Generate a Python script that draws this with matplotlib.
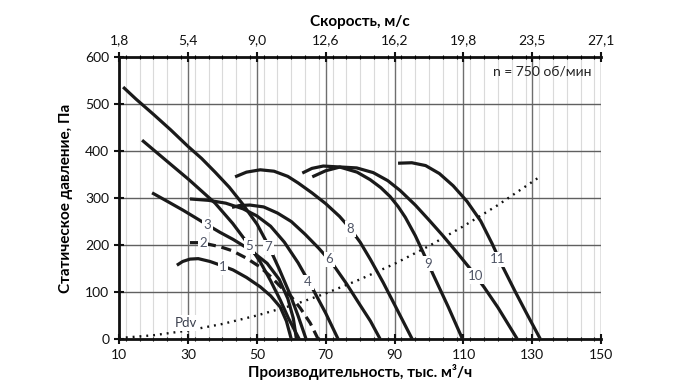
import matplotlib
matplotlib.use("Agg")
import matplotlib.pyplot as plt
from matplotlib.ticker import MultipleLocator, FixedLocator

plt.rcParams['font.family'] = ['Lato', 'Open Sans', 'DejaVu Sans']

# ---- data ----
q1 = [26.8, 28.5, 30.6, 33, 36.4, 39.5, 43.1, 47, 51, 54, 56.8, 58.6, 60.0]
p1 = [157, 165, 170, 171, 165, 157, 147, 131, 111, 92, 68, 38, 0]

q2 = [30.6, 34, 36.4, 39.5, 42.8, 47, 51, 54, 56.8, 60, 62.6, 65.5, 67.8]
p2 = [205, 205, 201, 196, 188, 172, 153, 133, 112, 90, 66, 34, 0]

q3 = [19.6, 24, 28.6, 32, 35.6, 39.3, 43.1, 48, 53, 56.5, 59, 60.6, 61.5]
p3 = [311, 293, 274, 259, 243, 227, 212, 190, 161, 127, 86, 44, 0]

q4 = [30.6, 36, 41, 46, 50, 54, 58, 62, 66, 70, 73.6]
p4 = [298, 295, 289, 277, 262, 240, 206, 162, 110, 55, 0]

q5 = [16.7, 23, 30.3, 37.9, 43, 47.8, 51, 54, 56.8, 59.2, 62.3]
p5 = [423, 384, 339, 289, 246, 199, 164, 124, 83, 44, 0]

q6 = [42.8, 45, 48, 52, 56, 60, 64, 68, 72, 76, 80, 83, 85.8]
p6 = [280, 284, 285, 281, 268, 250, 223, 193, 160, 118, 72, 38, 0]

q7 = [11.2, 15, 20, 25, 30, 34, 37.9, 42, 45.7, 50.1, 53.3, 56.5, 59.7, 62, 64.3]
p7 = [536, 510, 478, 445, 410, 384, 355, 323, 289, 244, 200, 149, 94, 49, 0]

q8 = [43.7, 47, 51, 55, 59, 62, 66, 70, 74, 77, 80, 83, 86.7, 90, 95.1]
p8 = [345, 355, 360, 357, 346, 332, 311, 288, 261, 236, 206, 169, 120, 73, 0]

q9 = [63.2, 66, 69.3, 74, 79.1, 82.9, 86, 88.7, 91, 93.1, 96, 98.3, 101.2, 105.6, 109.7]
p9 = [353, 363, 368, 366, 355, 339, 322, 303, 282, 259, 220, 184, 137, 68, 0]

q10 = [66.1, 70, 74.2, 79, 83.8, 88, 91.6, 96, 100, 104, 108, 112, 116, 120, 125.6]
p10 = [345, 358, 366, 364, 354, 337, 316, 285, 253, 220, 185, 149, 110, 67, 0]

q11 = [91, 95, 99, 103, 107, 111, 115, 118.3, 121.5, 125, 128.5, 132.3]
p11 = [374, 375, 369, 352, 326, 293, 251, 203, 152, 101, 52, 0]

q_pdv = [10, 20, 30, 40, 50, 60, 70, 80, 90, 100, 110, 120, 131.7]
p_pdv = [2, 8, 18, 32, 50, 71, 97, 127, 160, 198, 240, 285, 343]

curve_names = ['1', '2', '3', '4', '5', '6', '7', '8', '9', '10', '11']
label_q = [40.2, 34.4, 35.6, 64.9, 47.8, 71.0, 53.3, 77.1, 99.7, 113.4, 119.8]
label_p = [153, 204, 243, 121, 198, 170, 195, 234, 160, 134, 170]

x_ticks = [10, 30, 50, 70, 90, 110, 130, 150]
speed_labels = ['1,8', '5,4', '9,0', '12,6', '16,2', '19,8', '23,5', '27,1']
y_ticks = [0, 100, 200, 300, 400, 500, 600]

# ---- figure ----
fig = plt.figure(figsize=(7.0, 3.89), dpi=100)
ax = fig.add_axes([0.170, 0.1285, 0.689, 0.725])
ax.set_xlim(10, 150)
ax.set_ylim(0, 600)

# grid
ax.xaxis.set_minor_locator(MultipleLocator(4))
ax.set_xticks(x_ticks)
ax.set_yticks(y_ticks)
ax.grid(which='minor', axis='x', color='#dadada', lw=0.8)
ax.grid(which='major', axis='x', color='#6e6e6e', lw=1.0)
ax.grid(which='major', axis='y', color='#606060', lw=1.0)
ax.set_axisbelow(True)

for s in ['left', 'bottom', 'top']:
    ax.spines[s].set_linewidth(2.0)
    ax.spines[s].set_color('#111111')
ax.spines['right'].set_visible(False)

ax.tick_params(axis='both', which='major', direction='inout', length=7, width=1.5,
               labelsize=10, colors='#111111')
ax.tick_params(axis='x', which='minor', direction='inout', length=3, width=0.8)
ax.tick_params(axis='x', pad=4)

curve_color = '#1a1a1a'
lw = 2.3
series = [(q1, p1), (q2, p2), (q3, p3), (q4, p4), (q5, p5), (q6, p6),
          (q7, p7), (q8, p8), (q9, p9), (q10, p10), (q11, p11)]
for i, (q, p) in enumerate(series):
    if curve_names[i] == '2':
        ax.plot(q, p, color=curve_color, lw=lw, ls=(0, (3.2, 1.8)),
                solid_capstyle='butt', zorder=3)
    else:
        ax.plot(q, p, color=curve_color, lw=lw, solid_joinstyle='round',
                solid_capstyle='butt', zorder=3)

ax.plot(q_pdv, p_pdv, color='#111111', lw=1.7, ls=(0, (0.8, 2.1)), zorder=3)

lab_color = '#4f5566'
for name, lq, lp in zip(curve_names, label_q, label_p):
    ax.text(lq, lp, name, ha='center', va='center', fontsize=9.5, color=lab_color,
            zorder=5, bbox=dict(boxstyle='square,pad=0.12', fc='white', ec='none'))
ax.text(29.5, 34, 'Pdv', ha='center', va='center', fontsize=9.5, color='#3a3f4d',
        zorder=5, bbox=dict(boxstyle='square,pad=0.12', fc='white', ec='none'))

ax.text(133, 570, 'n = 750 об/мин', ha='center', va='center', fontsize=10,
        color='#222222', zorder=5)

ax.set_xlabel('Производительность, тыс. м³/ч', fontsize=11, fontweight='bold',
              labelpad=2)
ax.set_ylabel('Статическое давление, Па', fontsize=11, fontweight='bold', labelpad=9)

# top speed axis
ax2 = ax.twiny()
ax2.set_xlim(ax.get_xlim())
ax2.xaxis.set_major_locator(FixedLocator(x_ticks))
ax2.set_xticklabels(speed_labels)
ax2.xaxis.set_minor_locator(MultipleLocator(4))
ax2.tick_params(axis='x', which='major', direction='inout', length=7, width=1.5,
                labelsize=10, colors='#111111', pad=4)
ax2.tick_params(axis='x', which='minor', direction='inout', length=3, width=0.8)
for s in ax2.spines.values():
    s.set_visible(False)
ax2.set_xlabel('Скорость, м/с', fontsize=11, fontweight='bold', labelpad=6)

fig.savefig('out.png', dpi=100)
